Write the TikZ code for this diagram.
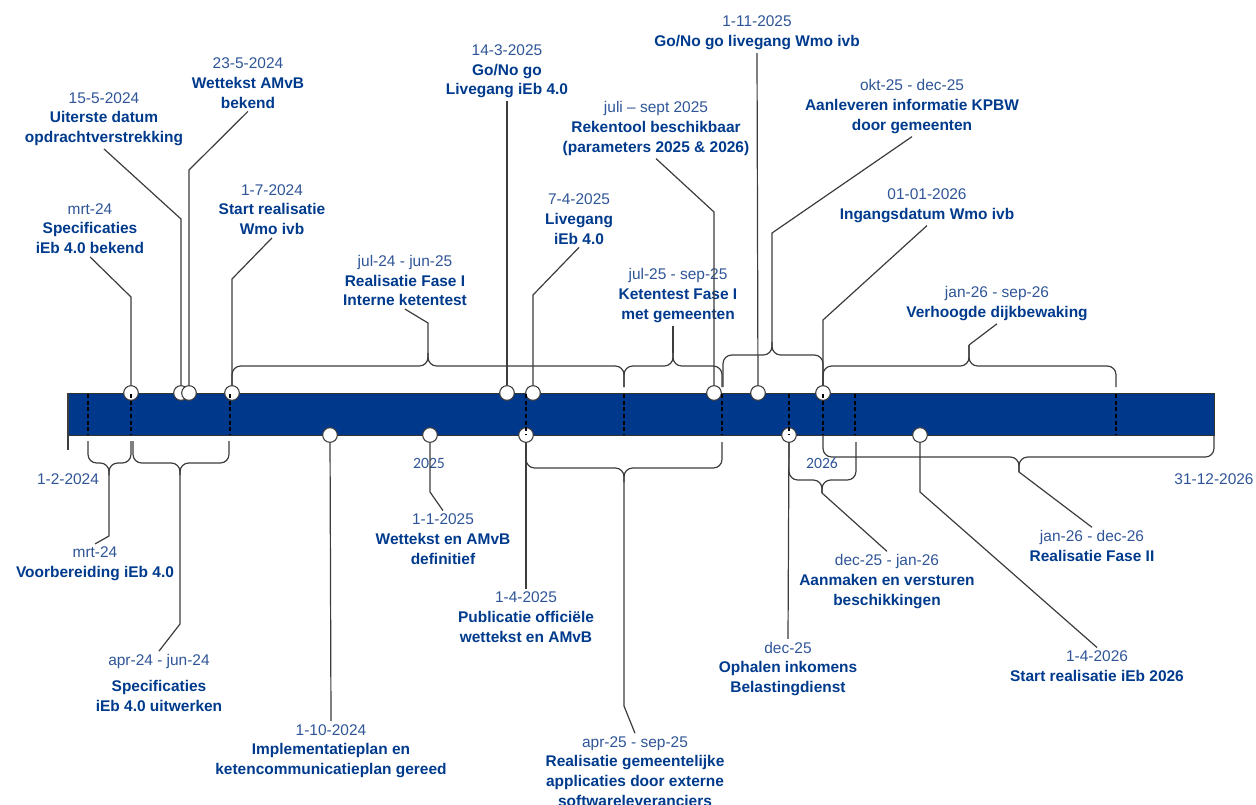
\documentclass[tikz,border=0pt]{standalone}
\usepackage{fontspec}
\setmainfont{Liberation Sans}
\newfontfamily\jaarfont{Carlito}

\definecolor{balkblauw}{RGB}{0,56,140}
\definecolor{titelblauw}{RGB}{0,58,140}
\definecolor{datumblauw}{RGB}{47,85,151}
\definecolor{lijngrijs}{RGB}{60,60,60}

\newcommand\labelfont{\fontsize{11.6}{14.8}\selectfont}
\newcommand\datum[1]{{\mdseries\color{datumblauw}#1}}
% brace: x left, x right, x tip, y ends, y arms, y tip, name of tip
\newcommand\accolade[7]{%
  \draw[accolade] (#1,#4) -- (#1,#5) -- (#3,#5) -- (#3,#6);
  \draw[accolade] (#2,#4) -- (#2,#5) -- (#3,#5) -- (#3,#6);
  \coordinate (#7) at (#3,#6);}

\tikzset{every picture/.style={line width=0.75pt}}
\tikzset{
  balk/.style={fill=balkblauw, draw=black!80, line width=0.6pt},
  mijlpaal/.style={circle, draw=lijngrijs, fill=white, line width=0.8pt, minimum size=11pt, inner sep=0pt},
  verbinding/.style={draw=lijngrijs, line width=0.9pt},
  accolade/.style={draw=lijngrijs, line width=0.9pt, rounded corners=6.5pt},
  markering/.style={draw=black, line width=0.8pt, dash pattern=on 3pt off 2pt},
  label/.style={align=center, font=\labelfont\bfseries, text=titelblauw, inner sep=2pt},
  datumtekst/.style={font=\labelfont, text=datumblauw},
  jaar/.style={font=\jaarfont\fontsize{11.8}{14}\selectfont, text=datumblauw},
}

\begin{document}
\begin{tikzpicture}[x=0.75pt,y=0.75pt,yscale=-1,xscale=1]
	\useasboundingbox (0,0) rectangle (1256,804);

	%Shape: Rectangle [balk]
	\draw[balk] (68,393) rectangle (1214,435);
	\draw[verbinding] (68,393) -- (68,450);

	%Shape: Brace [boven]
	\accolade{232}{624}{428}{387}{366}{353}{fase1}
	\accolade{624}{722}{673}{387}{366}{353}{ketentest}
	\accolade{723}{823}{772}{387}{355}{342}{kpbw}
	\accolade{823}{1116}{969}{387}{366}{345}{dijk}
	%Shape: Brace [onder]
	\accolade{88}{131}{109}{441}{463}{475}{voorb}
	\accolade{133}{229}{180}{441}{463}{475}{specuit}
	\accolade{526}{722}{624}{442}{468}{482}{gemapp}
	\accolade{789}{856}{822}{442}{480}{493}{beschik}
	\accolade{823}{1214}{1019}{436}{457}{472}{fase2}

	%Shape: Circle [boven]
	\node[mijlpaal] (t1) at (131,393) {};
	\node[mijlpaal] (t2) at (181,393) {};
	\node[mijlpaal] (t3) at (189,393) {};
	\node[mijlpaal] (t4) at (232,393) {};
	\node[mijlpaal] (t5) at (507,393) {};
	\node[mijlpaal] (t6) at (533,393) {};
	\node[mijlpaal] (t7) at (714,393) {};
	\node[mijlpaal] (t8) at (758,393) {};
	\node[mijlpaal] (t9) at (823,393) {};
	%Shape: Circle [onder]
	\node[mijlpaal] (o1) at (330,435) {};
	\node[mijlpaal] (o2) at (430,435) {};
	\node[mijlpaal] (o3) at (526,435) {};
	\node[mijlpaal] (o4) at (789,435) {};
	\node[mijlpaal] (o5) at (920,435) {};

	%Straight Lines [markering]
	\foreach \x in {88,131,230,526,624,722,789,823,855,1116}
		\draw[markering] (\x,394) -- (\x,435);

	% Text Node
	\node[label] (l1) at (90,228.5) {\datum{mrt-24}\\Specificaties\\iEb 4.0 bekend};
	% Text Node
	\node[label] (l2) at (104,119) {\datum{15-5-2024}\\Uiterste datum\\opdrachtverstrekking};
	% Text Node
	\node[label] (l3) at (248,83) {\datum{23-5-2024}\\Wettekst AMvB\\bekend};
	% Text Node
	\node[label] (l4) at (272,209.5) {\datum{1-7-2024}\\Start realisatie\\Wmo ivb};
	% Text Node
	\node[label] (l5) at (405,280.5) {\datum{jul-24 - jun-25}\\Realisatie Fase I\\Interne ketentest};
	% Text Node
	\node[label] (l6) at (507,71.5) {\datum{14-3-2025}\\Go/No go\\Livegang iEb 4.0};
	% Text Node
	\node[label] (l7) at (579,219) {\datum{7-4-2025}\\Livegang\\iEb 4.0};
	% Text Node
	\node[label] (l8) at (656,128.5) {\datum{juli – sept 2025}\\Rekentool beschikbaar\\(parameters 2025 \& 2026)};
	% Text Node
	\node[label] (l9) at (678,295.5) {\datum{jul-25 - sep-25}\\Ketentest Fase I\\met gemeenten};
	% Text Node
	\node[label] (l10) at (757,33) {\datum{1-11-2025}\\Go/No go livegang Wmo ivb};
	% Text Node
	\node[label] (l11) at (912,106.5) {\datum{okt-25 - dec-25}\\Aanleveren informatie KPBW\\door gemeenten};
	% Text Node
	\node[label] (l12) at (927,205.5) {\datum{01-01-2026}\\Ingangsdatum Wmo ivb};
	% Text Node
	\node[label] (l13) at (997,303.5) {\datum{jan-26 - sep-26}\\Verhoogde dijkbewaking};
	% Text Node
	\node[label] (l14) at (95,564) {\datum{mrt-24}\\Voorbereiding iEb 4.0};
	% Text Node
	\node[label] (l15) at (159,683) {\datum{apr-24 - jun-24}\\[5pt]Specificaties\\iEb 4.0 uitwerken};
	% Text Node
	\node[label] (l16) at (331,751) {\datum{1-10-2024}\\Implementatieplan en\\ketencommunicatieplan gereed};
	% Text Node
	\node[label] (l17) at (443,539) {\datum{1-1-2025}\\Wettekst en AMvB\\definitief};
	% Text Node
	\node[label] (l18) at (526,617) {\datum{1-4-2025}\\Publicatie officiële\\wettekst en AMvB};
	% Text Node
	\node[label] (l19) at (635,771.5) {\datum{apr-25 - sep-25}\\Realisatie gemeentelijke\\applicaties door externe\\softwareleveranciers};
	% Text Node
	\node[label] (l20) at (788,669) {\datum{dec-25}\\Ophalen inkomens\\Belastingdienst};
	% Text Node
	\node[label] (l21) at (887,581.5) {\datum{dec-25 - jan-26}\\Aanmaken en versturen\\beschikkingen};
	% Text Node
	\node[label] (l22) at (1097,666) {\datum{1-4-2026}\\Start realisatie iEb 2026};
	% Text Node
	\node[label] (l23) at (1092,546) {\datum{jan-26 - dec-26}\\Realisatie Fase II};
	% Text Node
	\node[datumtekst] (begin) at (68,479) {1-2-2024};
	% Text Node
	\node[datumtekst] (eind) at (1214,479) {31-12-2026};
	% Text Node
	\node[jaar] (j2025) at (429,463) {2025};
	% Text Node
	\node[jaar] (j2026) at (822,463) {2026};

	%Straight Lines [knikpunten]
	\coordinate (k1) at (131,297);
	\coordinate (k2) at (181,219);
	\coordinate (k3) at (189,170);
	\coordinate (k4) at (232,279);
	\coordinate (k5) at (428,323);
	\coordinate (k6) at (533,295);
	\coordinate (k7) at (714,212);
	\coordinate (k8) at (772,233);
	\coordinate (k9) at (823,320);
	\coordinate (k10) at (109,536);
	\coordinate (k11) at (180,624);
	\coordinate (k12) at (430,492);
	\coordinate (k13) at (624,706);
	\coordinate (k14) at (920,492);

	\draw[verbinding] (l1.south) -- (k1) -- (t1);
	\draw[verbinding] (l2.south) -- (k2) -- (t2);
	\draw[verbinding] (l3.south) -- (k3) -- (t3);
	\draw[verbinding] (l4.south) -- (k4) -- (t4);
	\draw[verbinding] (l5.south) -- (k5) -- (fase1);
	\draw[verbinding] (l6.south) -- (t5);
	\draw[verbinding] (l7.south) -- (k6) -- (t6);
	\draw[verbinding] (l8.south) -- (k7) -- (t7);
	\draw[verbinding] (ketentest) -- (ketentest |- l9.south);
	\draw[verbinding] (l10.south) -- (t8);
	\draw[verbinding] (l11.south) -- (k8) -- (kpbw);
	\draw[verbinding] (l12.south) -- (k9) -- (t9);
	\draw[verbinding] (l13.south) -- (dijk);
	\draw[verbinding] (voorb) -- (k10) -- (l14.north);
	\draw[verbinding] (specuit) -- (k11) -- (l15.north);
	\draw[verbinding] (o1) -- (l16.north);
	\draw[verbinding] (o2) -- (k12) -- (l17.north);
	\draw[verbinding] (o3) -- (l18.north);
	\draw[verbinding] (gemapp) -- (k13) -- (l19.north);
	\draw[verbinding] (o4) -- (l20.north);
	\draw[verbinding] (beschik) -- (l21.north);
	\draw[verbinding] (o5) -- (k14) -- (l22.north);
	\draw[verbinding] (fase2) -- (l23.north);

\end{tikzpicture}
\end{document}
